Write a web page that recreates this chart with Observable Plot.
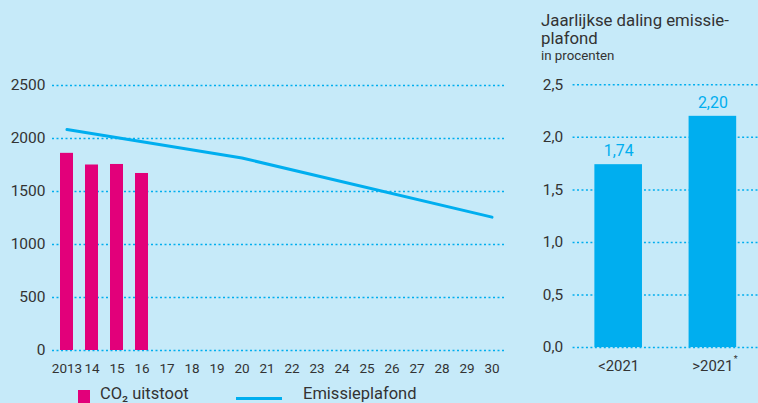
<!DOCTYPE html>
<html>
<head>
<meta charset="utf-8">
<script src="https://cdn.jsdelivr.net/npm/d3@7"></script>
<script src="https://cdn.jsdelivr.net/npm/@observablehq/plot@0.6"></script>
<style>
  html, body { margin: 0; padding: 0; }
  body { width: 758px; height: 403px; background: #c6eaf9; position: relative; overflow: hidden; font-family: Roboto, sans-serif; color: #333; }
  #left { position: absolute; left: 0; top: 0; }
  #right { position: absolute; left: 520px; top: 0; }
  .title { position: absolute; left: 541px; top: 12px; font-size: 16.8px; line-height: 18px; }
  .title .sub { font-size: 13.3px; line-height: 14px; display: block; margin-top: 2.2px; }
  .leg { position: absolute; font-size: 16.5px; white-space: nowrap; line-height: 1; }
  svg { overflow: visible; }
</style>
</head>
<body>
<div id="left"></div>
<div id="right"></div>
<div class="title" style="top:11px;width:200px">Jaarlijkse daling emissie- plafond<span class="sub">in procenten</span></div>
<div id="legend"></div>
<script>
const years = d3.range(2013, 2031);
const co2Years = [2013, 2014, 2015, 2016];
const co2Values = [1860, 1750, 1755, 1670];
const capYears = [2013, 2020, 2030];
const capValues = [2084, 1816, 1258];
const leftTicks = [0, 500, 1000, 1500, 2000, 2500];
const periods = ["<2021", ">2021"];
const reductions = [1.74, 2.20];
const rightTicks = [0, 0.5, 1, 1.5, 2, 2.5];
const legendLabels = ["CO₂ uitstoot", "Emissieplafond"];

const pink = "#e2007a";
const cyan = "#00aeef";
const ink = "#333";

const co2 = co2Years.map((y, i) => ({year: y, value: co2Values[i]}));
const cap = capYears.map((y, i) => ({year: y, value: capValues[i]}));
const red = periods.map((p, i) => ({period: p, value: reductions[i]}));

const left = Plot.plot({
  width: 520, height: 385,
  marginLeft: 52, marginRight: 15, marginTop: 85, marginBottom: 35,
  style: {background: "transparent", fontFamily: "Roboto, sans-serif", color: ink, overflow: "visible"},
  x: {type: "band", domain: years, paddingInner: 0.48, paddingOuter: 0.235, label: null},
  y: {domain: [0, 2500], label: null},
  marks: [
    Plot.ruleY(leftTicks, {stroke: cyan, strokeWidth: 1.5, strokeDasharray: "2,2.5"}),
    Plot.barY(co2, {x: "year", y: "value", fill: pink}),
    Plot.line(cap, {x: "year", y: "value", stroke: cyan, strokeWidth: 3}),
    Plot.axisY(leftTicks, {tickSize: 0, tickPadding: 7, fontSize: 15.5, label: null, fill: ink,
      tickFormat: d => String(d)}),
    Plot.axisX(years, {tickSize: 0, tickPadding: 13, fontSize: 13.5, label: null, fill: ink,
      tickFormat: d => d === 2013 ? "2013" : String(d).slice(2)})
  ]
});
document.getElementById("left").append(left);

const right = Plot.plot({
  width: 240, height: 385,
  marginLeft: 53, marginRight: 0, marginTop: 85, marginBottom: 35,
  style: {background: "transparent", fontFamily: "Roboto, sans-serif", color: ink, overflow: "visible"},
  x: {type: "band", domain: periods, paddingInner: 0.5, paddingOuter: 0.234, label: null},
  y: {domain: [0, 2.5], label: null},
  marks: [
    Plot.ruleY(rightTicks, {stroke: cyan, strokeWidth: 1.5, strokeDasharray: "2,2.5"}),
    Plot.barY(red, {x: "period", y: "value", fill: cyan}),
    Plot.text(red, {x: "period", y: "value", text: d => d.value.toFixed(2).replace(".", ","),
      dy: -14, fill: cyan, fontSize: 16}),
    Plot.axisY(rightTicks, {tickSize: 0, tickPadding: 10, fontSize: 15.5, label: null, fill: ink,
      tickFormat: d => d.toFixed(1).replace(".", ",")}),
    Plot.axisX(periods, {tickSize: 0, tickPadding: 13, fontSize: 15, label: null, fill: ink}),
    Plot.text([">2021"], {x: d => d, frameAnchor: "bottom", dy: 15, dx: 23, text: () => "*", fontSize: 9, fill: ink})
  ]
});
document.getElementById("right").append(right);

// legend
const leg = document.getElementById("legend");
leg.innerHTML = `
  <div style="position:absolute;left:78px;top:390px;width:12px;height:13px;background:${pink}"></div>
  <div class="leg" style="left:100px;top:386px">${legendLabels[0]}</div>
  <div style="position:absolute;left:236px;top:397px;width:46px;height:3px;background:${cyan}"></div>
  <div class="leg" style="left:303px;top:386px">${legendLabels[1]}</div>`;
</script>
</body>
</html>
